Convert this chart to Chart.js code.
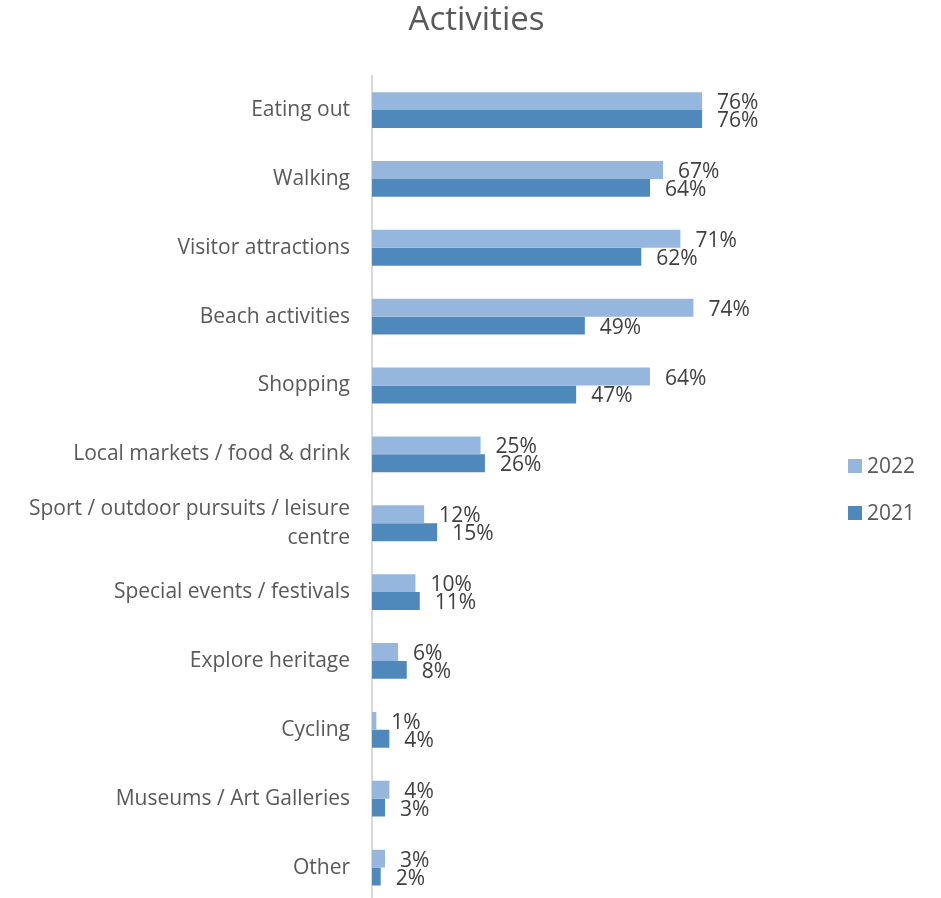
<!DOCTYPE html>
<html>
<head>
<meta charset="utf-8">
<title>Activities</title>
<script src="https://cdn.jsdelivr.net/npm/chart.js@4.4.1/dist/chart.umd.min.js"></script>
<style>
  html, body { margin: 0; padding: 0; background: #fff; }
  #wrap { width: 941px; height: 898px; overflow: hidden; }
</style>
</head>
<body>
<div id="wrap"><canvas id="myChart" width="941" height="902"></canvas></div>
<script>
// Dados do gráfico
const categories = [
    'Eating out',
    'Walking',
    'Visitor attractions',
    'Beach activities',
    'Shopping',
    'Local markets / food & drink',
    ['Sport / outdoor pursuits / leisure', 'centre'],
    'Special events / festivals',
    'Explore heritage',
    'Cycling',
    'Museums / Art Galleries',
    'Other'
];
const values2022 = [76, 67, 71, 74, 64, 25, 12, 10, 6, 1, 4, 3];
const values2021 = [76, 64, 62, 49, 47, 26, 15, 11, 8, 4, 3, 2];
const seriesNames = ['2022', '2021'];

const FONT = '"Open Sans", sans-serif';
const TEXT = '#595959';

// rótulos de valor no fim de cada barra
const barLabels = {
    id: 'barLabels',
    afterDatasetsDraw(chart) {
        const ctx = chart.ctx;
        ctx.save();
        ctx.font = '21px ' + FONT;
        ctx.fillStyle = '#404040';
        ctx.textAlign = 'left';
        ctx.textBaseline = 'middle';
        chart.data.datasets.forEach((ds, i) => {
            chart.getDatasetMeta(i).data.forEach((bar, j) => {
                ctx.fillText(ds.data[j] + '%', bar.x + 15, bar.y + 2);
            });
        });
        ctx.restore();
    }
};

// legenda à direita
const sideLegend = {
    id: 'sideLegend',
    afterDraw(chart) {
        const ctx = chart.ctx;
        ctx.save();
        ctx.font = '21px ' + FONT;
        ctx.textAlign = 'left';
        ctx.textBaseline = 'middle';
        chart.data.datasets.forEach((ds, i) => {
            const y = 466 + i * 47;
            ctx.fillStyle = ds.backgroundColor;
            ctx.fillRect(848, y - 7, 14, 14);
            ctx.fillStyle = TEXT;
            ctx.fillText(ds.label, 867, y + 1);
        });
        ctx.restore();
    }
};

const data = {
    labels: categories,
    datasets: [{
        label: seriesNames[0],
        data: values2022,
        backgroundColor: '#95b7de'
    }, {
        label: seriesNames[1],
        data: values2021,
        backgroundColor: '#4f89bc'
    }]
};

const options = {
    indexAxis: 'y',
    responsive: false,
    animation: false,
    categoryPercentage: 0.52,
    barPercentage: 1,
    layout: { padding: { left: 12, right: 0, top: 0, bottom: 0 } },
    scales: {
        x: {
            display: false,
            min: 0,
            max: 131
        },
        y: {
            grid: { display: false },
            border: { display: true, color: '#d9d9d9', width: 2 },
            ticks: {
                color: TEXT,
                padding: 14,
                font: { family: FONT, size: 21, lineHeight: 1.4 }
            },
            afterFit(scale) {
                scale.width = 360;
                scale.paddingTop = 0;
                scale.paddingBottom = 0;
            }
        }
    },
    plugins: {
        legend: { display: false },
        tooltip: { enabled: false },
        title: {
            display: true,
            text: 'Activities',
            color: TEXT,
            font: { family: FONT, size: 33, weight: 'normal' },
            padding: { top: 1, bottom: 35 }
        }
    }
};

const ctx = document.getElementById('myChart').getContext('2d');
const myChart = new Chart(ctx, {
    type: 'bar',
    data: data,
    options: options,
    plugins: [barLabels, sideLegend]
});
</script>
</body>
</html>
